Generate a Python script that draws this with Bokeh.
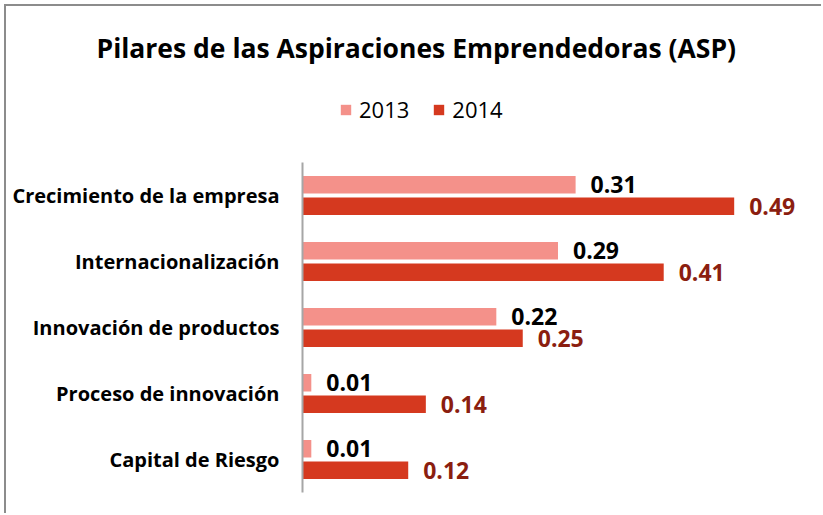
from bokeh.plotting import figure
from bokeh.layouts import column
from bokeh.models import ColumnDataSource, FactorRange, Range1d, Legend, LegendItem
from bokeh.transform import dodge
from bokeh.core.properties import value
from bokeh.embed import file_html
from bokeh.resources import INLINE

# ---- data ----
categories = ["Crecimiento de la empresa", "Internacionalización", "Innovación de productos",
              "Proceso de innovación", "Capital de Riesgo"]
values_2013 = [0.31, 0.29, 0.22, 0.01, 0.01]
values_2014 = [0.49, 0.41, 0.25, 0.14, 0.12]
series_names = ["2013", "2014"]
title_text = "Pilares de las Aspiraciones Emprendedoras (ASP)"

# ---- styles ----
C13 = "#F4918A"
C14 = "#D5391F"
C14_LABEL = "#8B1E10"
FRAME_GRAY = "#8C8C8C"
FONT = "Open Sans"

W = 821
TOP_H = 162
MAIN_H = 351
LEFT = 302

# ---------- header figure: title + legend ----------
top = figure(width=W, height=TOP_H, output_backend="svg", toolbar_location=None,
             x_range=Range1d(0, 1), y_range=Range1d(0, 1),
             x_axis_location=None, y_axis_location=None,
             min_border_left=LEFT, min_border_right=0, min_border_top=0, min_border_bottom=0)
top.outline_line_color = None
top.xgrid.visible = False
top.ygrid.visible = False
top.background_fill_color = None
top.border_fill_color = None

top.title.text = title_text
top.title.align = "left"
top.title.offset = 96 - LEFT
top.title.standoff = 54
top.title.text_font = FONT
top.title.text_font_style = "bold"
top.title.text_font_size = "26.5px"
top.title.text_color = "black"

# legend proxies (zero-size, only used for the legend swatches)
proxy = ColumnDataSource(dict(y=[0], right=[0]))
g13 = top.hbar(y="y", right="right", height=0, source=proxy, fill_color=C13, line_color=None)
g14 = top.hbar(y="y", right="right", height=0, source=proxy, fill_color=C14, line_color=None)

legend = Legend(items=[LegendItem(label=series_names[0], renderers=[g13]),
                       LegendItem(label=series_names[1], renderers=[g14])],
                location=(339 - LEFT, 38), orientation="horizontal",
                glyph_width=13, glyph_height=13, label_standoff=7, spacing=23,
                padding=0, margin=0, border_line_color=None, background_fill_alpha=0,
                label_text_font=FONT, label_text_font_size="22px", label_text_color="black")
top.add_layout(legend, "center")

# ---------- main bar chart ----------
src = ColumnDataSource(dict(
    cat=categories,
    v13=values_2013,
    v14=values_2014,
    l13=[f"{v:.2f}" for v in values_2013],
    l14=[f"{v:.2f}" for v in values_2014],
))

p = figure(width=W, height=MAIN_H, output_backend="svg", toolbar_location=None,
           y_range=FactorRange(factors=categories[::-1], range_padding=0),
           x_range=Range1d(0, 0.5891), x_axis_location=None,
           min_border_left=LEFT, min_border_right=0, min_border_top=0, min_border_bottom=21)
p.background_fill_color = None
p.border_fill_color = None
p.outline_line_color = None
p.xgrid.visible = False
p.ygrid.visible = False

ax = p.yaxis[0]
ax.axis_line_color = "#A6A6A6"
ax.axis_line_width = 2
ax.major_tick_line_color = None
ax.minor_tick_line_color = None
ax.major_tick_out = 0
ax.major_label_standoff = 23
ax.major_label_text_font = FONT
ax.major_label_text_font_style = "bold"
ax.major_label_text_font_size = "20px"
ax.major_label_text_color = "black"

OFF = 0.163
BH = 0.265
p.hbar(y=dodge("cat", OFF, range=p.y_range), right="v13", left=0, height=BH,
       source=src, fill_color=C13, line_color=None)
p.hbar(y=dodge("cat", -OFF, range=p.y_range), right="v14", left=0, height=BH,
       source=src, fill_color=C14, line_color=None)

p.text(x="v13", y=dodge("cat", OFF, range=p.y_range), text="l13", source=src,
       x_offset=15, text_align="left", text_baseline="middle",
       text_font=value(FONT), text_font_style="bold", text_font_size="23px", text_color="black")
p.text(x="v14", y=dodge("cat", -OFF, range=p.y_range), text="l14", source=src,
       x_offset=15, text_align="left", text_baseline="middle",
       text_font=value(FONT), text_font_style="bold", text_font_size="23px", text_color=C14_LABEL)

layout = column(top, p, spacing=0)
# chart-area frame (left and top edges, as in the cropped original)
layout.styles = {
    "background-color": "white",
    "background-image": f"linear-gradient({FRAME_GRAY}, {FRAME_GRAY}), linear-gradient({FRAME_GRAY}, {FRAME_GRAY})",
    "background-size": "2px 100%, 100% 2px",
    "background-position": "4px 4px, 4px 4px",
    "background-repeat": "no-repeat",
}
open("out.html", "w").write(file_html(layout, INLINE))
